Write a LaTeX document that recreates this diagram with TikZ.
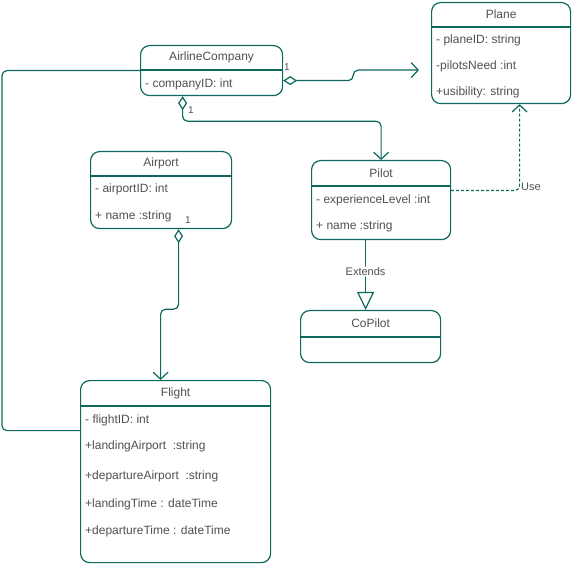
\documentclass[tikz,border=0pt]{standalone}
\usepackage{fontspec}
\setmainfont{Liberation Sans}
\usetikzlibrary{arrows.meta}
\definecolor{umlgreen}{RGB}{12,104,92}
\definecolor{umltext}{RGB}{80,80,80}
\tikzset{
  classbox/.style={draw=umlgreen, line width=1.2pt, rounded corners=9pt, inner sep=0pt, anchor=north west},
  classname/.style={text=umltext, font=\fontsize{12}{14}\selectfont},
  divider/.style={draw=umlgreen, line width=1.2pt},
  attr/.style={text=umltext, font=\fontsize{12}{14}\selectfont, anchor=west, inner sep=0pt},
  mult/.style={text=umltext, fill=white, font=\fontsize{10}{12}\selectfont, inner sep=1pt},
  linklabel/.style={text=umltext, fill=white, font=\fontsize{11}{13}\selectfont, inner sep=1pt},
  link/.style={draw=umlgreen, line width=1.2pt, rounded corners=5pt},
  aggr/.style={link, {Diamond[open,fill=white,length=14pt,width=9pt]}-{Straight Barb[length=7pt,width=15pt]}},
  assoc/.style={link, -{Straight Barb[length=7pt,width=15pt]}},
  dep/.style={link, dash pattern=on 3pt off 2pt, -{Straight Barb[length=7pt,width=15pt]}},
  inherit/.style={link, -{Triangle[open,fill=white,length=18pt,width=17pt]}}
}
\begin{document}
\begin{tikzpicture}[x=1pt,y=-1pt]
\useasboundingbox (0,0) rectangle (582,575);
% classes
\node[classbox, minimum width=139pt, minimum height=101pt] (plane) at (431,2) {};
\node[classname] (plane-name) at ([yshift=-12.5pt]plane.north) {Plane};
\draw[divider] ([yshift=-25pt]plane.north west) -- ([yshift=-25pt]plane.north east);
\foreach \dy/\t [count=\i] in {38pt/- planeID: string,64pt/-pilotsNeed :int,90pt/+usibility: string}
  \node[attr] (plane-\i) at ([xshift=5pt,yshift=-\dy]plane.north west) {\t};

\node[classbox, minimum width=142pt, minimum height=50pt] (airline) at (140,45) {};
\node[classname] (airline-name) at ([yshift=-12.5pt]airline.north) {AirlineCompany};
\draw[divider] ([yshift=-25pt]airline.north west) -- ([yshift=-25pt]airline.north east);
\foreach \dy/\t [count=\i] in {39pt/- companyID: int}
  \node[attr] (airline-\i) at ([xshift=5pt,yshift=-\dy]airline.north west) {\t};

\node[classbox, minimum width=141pt, minimum height=77pt] (airport) at (90,151) {};
\node[classname] (airport-name) at ([yshift=-12.5pt]airport.north) {Airport};
\draw[divider] ([yshift=-25pt]airport.north west) -- ([yshift=-25pt]airport.north east);
\foreach \dy/\t [count=\i] in {38pt/- airportID: int,65pt/+ name :string}
  \node[attr] (airport-\i) at ([xshift=5pt,yshift=-\dy]airport.north west) {\t};

\node[classbox, minimum width=139pt, minimum height=79pt] (pilot) at (311,160) {};
\node[classname] (pilot-name) at ([yshift=-13pt]pilot.north) {Pilot};
\draw[divider] ([yshift=-26pt]pilot.north west) -- ([yshift=-26pt]pilot.north east);
\foreach \dy/\t [count=\i] in {40pt/- experienceLevel :int,66pt/+ name :string}
  \node[attr] (pilot-\i) at ([xshift=5pt,yshift=-\dy]pilot.north west) {\t};

\node[classbox, minimum width=140pt, minimum height=52pt] (copilot) at (300,310) {};
\node[classname] (copilot-name) at ([yshift=-13.5pt]copilot.north) {CoPilot};
\draw[divider] ([yshift=-27pt]copilot.north west) -- ([yshift=-27pt]copilot.north east);

\node[classbox, minimum width=190pt, minimum height=182pt] (flight) at (80,380) {};
\node[classname] (flight-name) at ([yshift=-13pt]flight.north) {Flight};
\draw[divider] ([yshift=-26pt]flight.north west) -- ([yshift=-26pt]flight.north east);
\foreach \dy/\t [count=\i] in {40pt/- flightID: int,66pt/+landingAirport~ :string,96pt/+departureAirport~ :string,124pt/+landingTime : dateTime,151pt/+departureTime : dateTime}
  \node[attr] (flight-\i) at ([xshift=5pt,yshift=-\dy]flight.north west) {\t};

% relations
\draw[aggr, shorten >=12pt] ([yshift=-10pt]airline.east) -- ++(70,0) |- ([yshift=-17pt]plane.west);
\node[mult] (m-plane) at (287,67) {1};
\draw[aggr] ([xshift=-29pt]airline.south) -- ++(0,25) -| (pilot.north);
\node[mult] (m-pilot) at (191,110) {1};
\draw[aggr] ([xshift=17.5pt]airport.south) -- ++(0,80) -| ([xshift=-15pt]flight.north);
\node[mult] (m-flight) at (188,220) {1};
\draw[link] (airline.west) -- ++(-138,0) |- ([yshift=41pt]flight.west);
\draw[dep] ([yshift=9.5pt]pilot.east) -| ([xshift=18.5pt]plane.south);
\node[linklabel] (use) at (531,187) {Use};
\draw[inherit] ([xshift=-15.5pt]pilot.south) -- ([xshift=-5pt]copilot.north)
  node[linklabel, pos=0.45] (extends) {Extends};
\end{tikzpicture}
\end{document}
